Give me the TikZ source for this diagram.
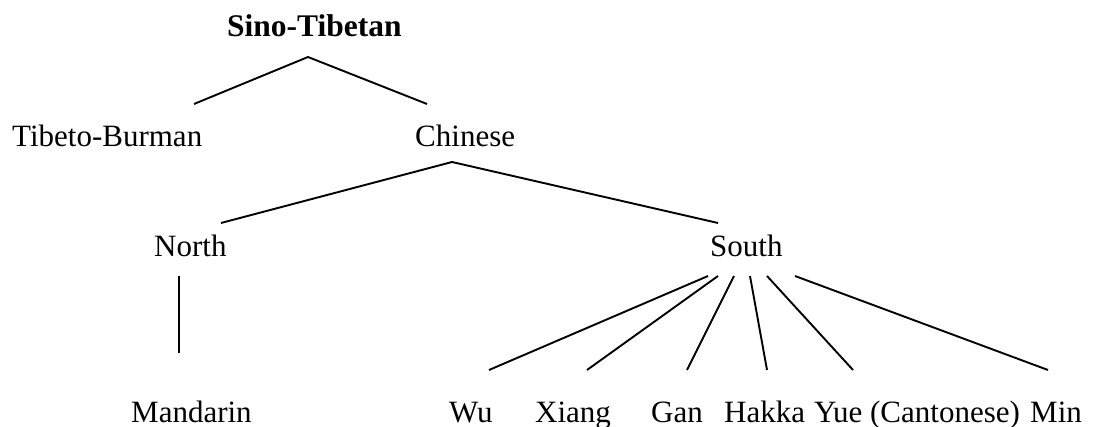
\documentclass[tikz,border=0pt]{standalone}
\usepackage{fontspec}
\setmainfont{Liberation Serif}
\begin{document}
\begin{tikzpicture}[x=1pt,y=-1pt,
  lang/.style={anchor=base west,inner sep=0pt,font=\fontsize{31}{37}\selectfont},
  root/.style={lang,font=\fontsize{31.5}{37}\selectfont\bfseries},
  branch/.style={line width=1.9pt,line cap=butt}]
\useasboundingbox (0,0) rectangle (1105,427);

% labels
\node[root] (st) at (227,37) {Sino-Tibetan};
\node[lang] (tb) at (12,147) {Tibeto-Burman};
\node[lang] (ch) at (415,147) {Chinese};
\node[lang] (north) at (154,257) {North};
\node[lang] (south) at (710,257) {South};
\node[lang] (mandarin) at (131,422) {Mandarin};
\node[lang] (wu) at (449,422) {Wu};
\node[lang] (xiang) at (535,422) {Xiang};
\node[lang] (gan) at (651,422) {Gan};
\node[lang] (hakka) at (724,422) {Hakka};
\node[lang] (yue) at (814,422) {Yue (Cantonese)};
\node[lang] (min) at (1030,422) {Min};

% branch end points
\coordinate (st-foot) at (308,57);
\coordinate (tb-head) at (194,104);
\coordinate (ch-head) at (427,104);
\coordinate (ch-foot) at (452,162);
\coordinate (north-head) at (221,223);
\coordinate (south-head) at (718,223);
\coordinate (north-foot) at (179,276);
\coordinate (mandarin-head) at (179,353);
\coordinate (f-wu) at (708,276);
\coordinate (f-xiang) at (718,276);
\coordinate (f-gan) at (734,276);
\coordinate (f-hakka) at (750,276);
\coordinate (f-yue) at (767,276);
\coordinate (f-min) at (795,276);
\coordinate (wu-head) at (489,370);
\coordinate (xiang-head) at (587,370);
\coordinate (gan-head) at (687,370);
\coordinate (hakka-head) at (767,370);
\coordinate (yue-head) at (853,370);
\coordinate (min-head) at (1048,370);

% branches
\draw[branch] (tb-head) -- (st-foot) -- (ch-head);
\draw[branch] (north-head) -- (ch-foot) -- (south-head);
\draw[branch] (north-foot) -- (mandarin-head);
\draw[branch] (f-wu) -- (wu-head);
\draw[branch] (f-xiang) -- (xiang-head);
\draw[branch] (f-gan) -- (gan-head);
\draw[branch] (f-hakka) -- (hakka-head);
\draw[branch] (f-yue) -- (yue-head);
\draw[branch] (f-min) -- (min-head);
\end{tikzpicture}
\end{document}
